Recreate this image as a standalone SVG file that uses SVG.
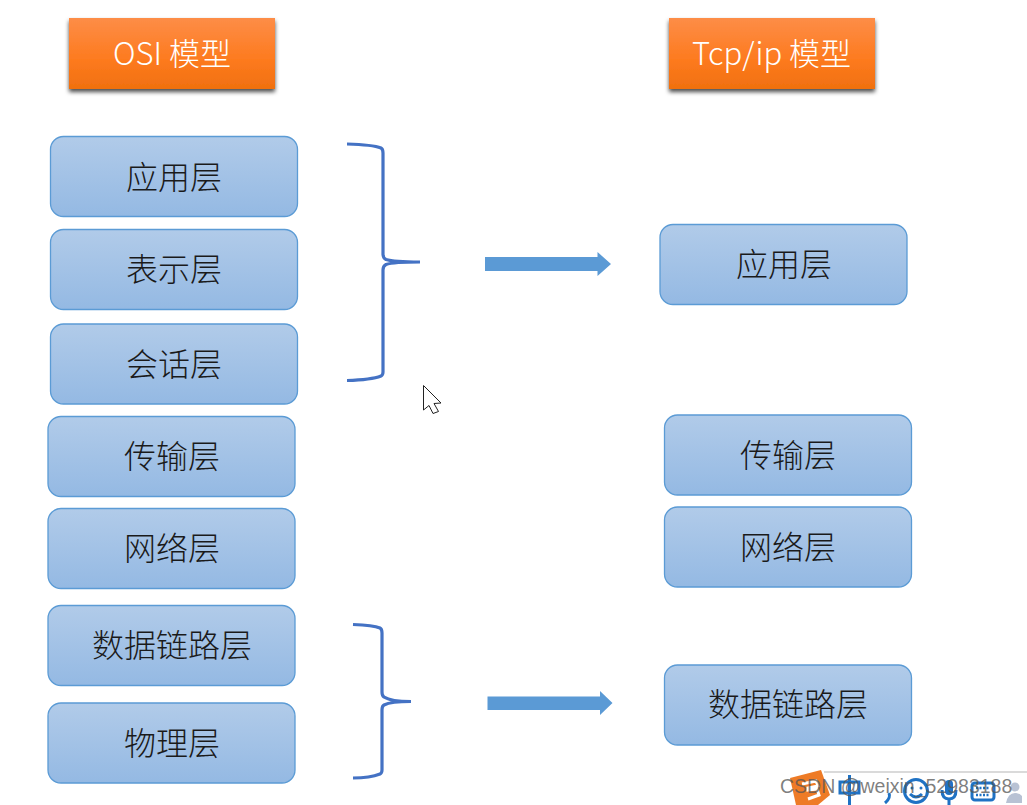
<svg xmlns="http://www.w3.org/2000/svg" width="1027" height="805" viewBox="0 0 1027 805">
<style>
.n{fill:url(#blue);stroke:#5b9bd5;stroke-width:1.3}
.h{fill:url(#orange);filter:url(#sh)}
.t{font-family:"Noto Sans CJK SC","Noto Sans",sans-serif;font-size:32px;font-weight:300;fill:#1a1a1a;text-anchor:middle}
.ht{font-family:"Noto Sans CJK SC","Noto Sans",sans-serif;font-size:31px;font-weight:300;fill:#fff;text-anchor:middle}
.b{fill:none;stroke:#4472c4;stroke-width:3.2}
.a{fill:#5b9ad5}
.ic{fill:none;stroke:#1f72c4;stroke-width:3}
</style>
<defs>
<linearGradient id="blue" x1="0" y1="0" x2="0" y2="1"><stop offset="0" stop-color="#b1cbe9"/><stop offset="1" stop-color="#94b9e3"/></linearGradient>
<linearGradient id="orange" x1="0" y1="0" x2="0" y2="1"><stop offset="0" stop-color="#fd8d47"/><stop offset="0.6" stop-color="#fd7a1e"/><stop offset="1" stop-color="#f0700f"/></linearGradient>
<filter id="sh" x="-10%" y="-15%" width="120%" height="140%"><feDropShadow dx="0" dy="3" stdDeviation="2.2" flood-color="#000" flood-opacity="0.7"/></filter>
</defs>
<rect width="1027" height="805" fill="#fff"/>
<g id="head-osi"><rect class="h" x="69" y="18" width="206" height="71"/><text class="ht" x="172" y="65">OSI 模型</text></g>
<g id="head-tcp"><rect class="h" x="669" y="18" width="206" height="71"/><text class="ht" x="771.500" y="65">Tcp/ip 模型</text></g>
<g id="osi-app"><rect class="n" x="50.500" y="136.500" width="247" height="80" rx="13"/><text class="t" x="174" y="188.500">应用层</text></g>
<g id="osi-pre"><rect class="n" x="50.500" y="229.500" width="247" height="80" rx="13"/><text class="t" x="174" y="280.500">表示层</text></g>
<g id="osi-ses"><rect class="n" x="50.500" y="324" width="247" height="80" rx="13"/><text class="t" x="174" y="375.500">会话层</text></g>
<g id="osi-tra"><rect class="n" x="48" y="416.500" width="247" height="80" rx="13"/><text class="t" x="172" y="467.500">传输层</text></g>
<g id="osi-net"><rect class="n" x="48" y="508.500" width="247" height="80" rx="13"/><text class="t" x="172" y="559.500">网络层</text></g>
<g id="osi-dat"><rect class="n" x="48" y="605.500" width="247" height="80" rx="13"/><text class="t" x="172" y="656.500">数据链路层</text></g>
<g id="osi-phy"><rect class="n" x="48" y="703" width="247" height="80" rx="13"/><text class="t" x="172" y="754.500">物理层</text></g>
<g id="tcp-app"><rect class="n" x="660" y="224.500" width="247" height="80" rx="13"/><text class="t" x="784" y="275.500">应用层</text></g>
<g id="tcp-tra"><rect class="n" x="664.500" y="415" width="247" height="80" rx="13"/><text class="t" x="788" y="466.500">传输层</text></g>
<g id="tcp-net"><rect class="n" x="664.500" y="507" width="247" height="80" rx="13"/><text class="t" x="788" y="558.500">网络层</text></g>
<g id="tcp-dat"><rect class="n" x="664.500" y="665" width="247" height="80" rx="13"/><text class="t" x="788" y="715.500">数据链路层</text></g>
<g id="connectors">
<path class="b" d="M347 144C365 144.500 376 146 381 148Q383 149 383 153V254Q383 258 386 259.500C392 261.500 405 262 420 262C405 262 392 262.500 386 264.500Q383 266 383 270V372Q383 375 381 376C376 378 365 380 347 380.500"/>
<path class="b" d="M353 624.500C365 625 375 626 380 628Q382 629 382 633V692Q382 696 384 697C390 701 400 701.500 411 701.500C400 701.500 390 702 384 705Q382 706 382 710V770Q382 773 380 774C375 776 365 778 353 778"/>
<path class="a" d="M485 257H597.500V252L611 264 597.500 276V271H485Z"/>
<path class="a" d="M487.500 696.500H600V691L612.500 703 600 715V710H487.500Z"/>
</g>
<g id="cursor"><path d="M423.500 385.500V410L429 405.500 433 413.500 438.500 411.500 434 403.500 441 403Z" fill="#fff" stroke="#222" stroke-width="1"/></g>
<g id="taskbar">
<path d="M824 772H1027" stroke="#b5b5b5" stroke-width="1"/>
<path d="M790 778L821 770 830 795 818 805H796Z" fill="#ee7b26"/>
<path d="M802 784L816 781 818 786 808 788V790L817 789 819 795 808 799" fill="none" stroke="#fff" stroke-width="3"/>
<rect x="840" y="782" width="19" height="11" class="ic"/>
<path d="M849.500 775V805" class="ic"/>
<path d="M889 793Q891 798 885 803" class="ic"/>
<circle cx="916" cy="791" r="11.500" class="ic"/>
<circle cx="912" cy="788" r="1.500" fill="#1f72c4"/><circle cx="921" cy="788" r="1.500" fill="#1f72c4"/>
<path d="M910 794Q916 800 922 794" class="ic" stroke-width="2"/>
<rect x="945" y="780" width="8" height="15" rx="4" fill="#1f72c4"/>
<path d="M942 790Q942 799 949 799 956 799 956 790M949 799V805" class="ic" stroke-width="2.500"/>
<rect x="972" y="783" width="22" height="17" rx="3" class="ic"/>
<path d="M976 788H990M976 795H990" stroke="#1f72c4" stroke-width="2.500" stroke-dasharray="2 1.500"/>
<circle cx="1015" cy="787" r="4.500" fill="#b8c2d4"/>
<path d="M1006 803Q1008 793 1015 793 1020 793 1022 796V803Z" fill="#b8c2d4"/>
</g>
<text id="watermark" x="780" y="793" font-family="Liberation Sans,sans-serif" font-size="19.500" fill="#555" fill-opacity="0.75">CSDN @weixin_52983188</text>
</svg>
